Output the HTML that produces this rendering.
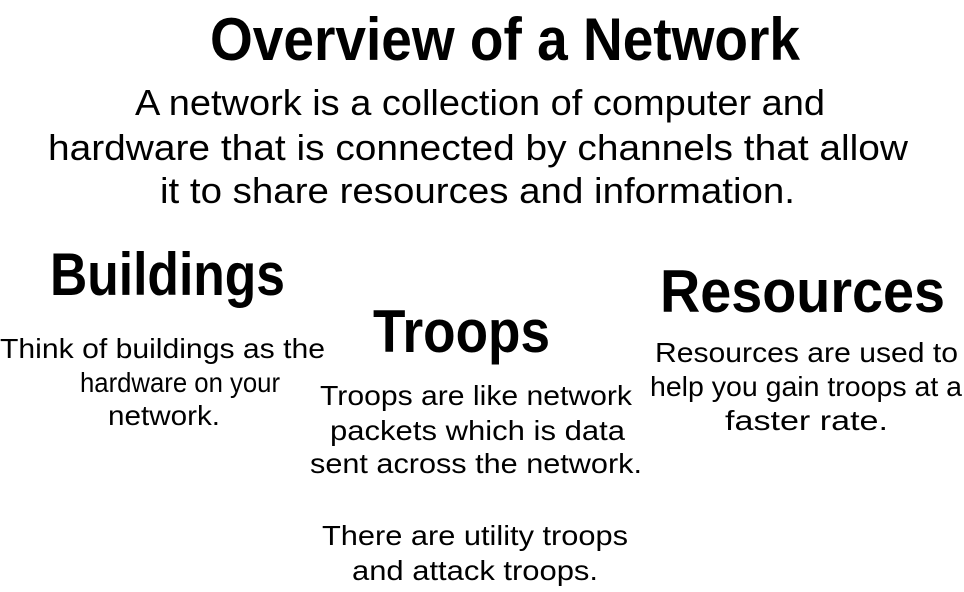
<!DOCTYPE html>
<html><head><meta charset="utf-8"><style>
html,body{margin:0;padding:0;background:#fff;width:964px;height:592px;overflow:hidden}
svg{display:block}
text{font-family:"Liberation Sans",sans-serif;fill:#000}
.h{font-size:60px;font-weight:bold}
.p{font-size:36px}
.s{font-size:28px}
</style></head><body>
<svg width="964" height="592" viewBox="0 0 964 592">
<text class="h" x="210" y="60" textLength="590" lengthAdjust="spacingAndGlyphs">Overview of a Network</text>
<text class="p" x="135" y="115" textLength="690" lengthAdjust="spacingAndGlyphs">A network is a collection of computer and</text>
<text class="p" x="48" y="160" textLength="860" lengthAdjust="spacingAndGlyphs">hardware that is connected by channels that allow</text>
<text class="p" x="160" y="203" textLength="635" lengthAdjust="spacingAndGlyphs">it to share resources and information.</text>
<text class="h" x="50" y="295" textLength="235" lengthAdjust="spacingAndGlyphs">Buildings</text>
<text class="s" x="0" y="358" textLength="325" lengthAdjust="spacingAndGlyphs">Think of buildings as the</text>
<text class="s" x="80" y="392" textLength="200" lengthAdjust="spacingAndGlyphs">hardware on your</text>
<text class="s" x="108" y="425" textLength="112" lengthAdjust="spacingAndGlyphs">network.</text>
<text class="h" x="373" y="352" textLength="177" lengthAdjust="spacingAndGlyphs">Troops</text>
<text class="s" x="320" y="405" textLength="312" lengthAdjust="spacingAndGlyphs">Troops are like network</text>
<text class="s" x="330" y="440" textLength="295" lengthAdjust="spacingAndGlyphs">packets which is data</text>
<text class="s" x="310" y="473" textLength="332" lengthAdjust="spacingAndGlyphs">sent across the network.</text>
<text class="s" x="322" y="545" textLength="306" lengthAdjust="spacingAndGlyphs">There are utility troops</text>
<text class="s" x="352" y="580" textLength="246" lengthAdjust="spacingAndGlyphs">and attack troops.</text>
<text class="h" x="660" y="312" textLength="285" lengthAdjust="spacingAndGlyphs">Resources</text>
<text class="s" x="655" y="362" textLength="303" lengthAdjust="spacingAndGlyphs">Resources are used to</text>
<text class="s" x="650" y="396" textLength="312" lengthAdjust="spacingAndGlyphs">help you gain troops at a</text>
<text class="s" x="725" y="430" textLength="163" lengthAdjust="spacingAndGlyphs">faster rate.</text>
</svg>
</body></html>
